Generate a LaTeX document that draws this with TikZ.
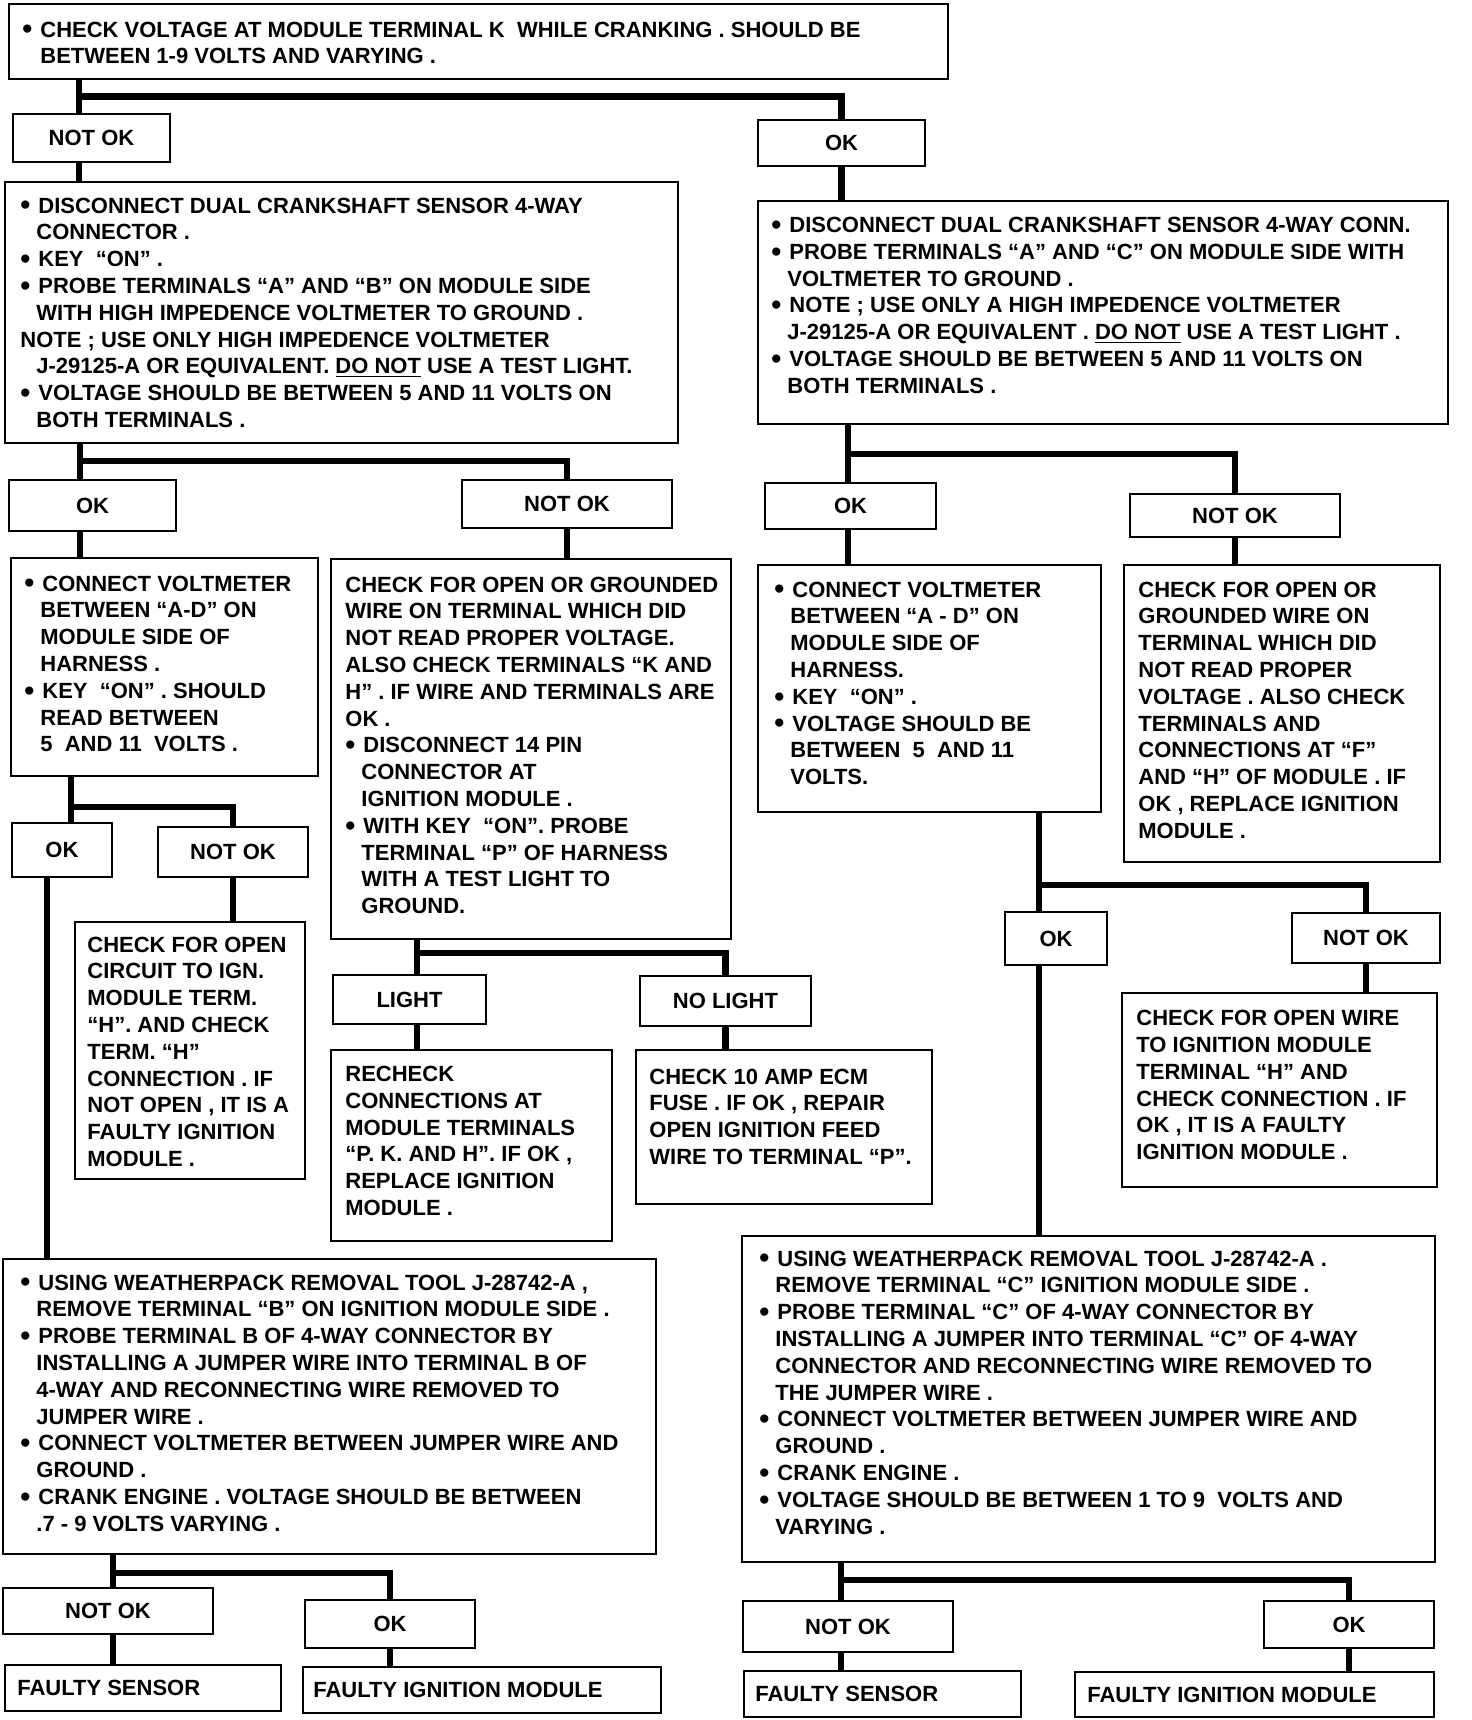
\documentclass[tikz,border=0pt]{standalone}
\usepackage{fontspec}
\setmainfont{Liberation Sans}
\usetikzlibrary{fit}
\newcommand\bodyfont{\fontsize{11}{13.4}\selectfont\bfseries}
\newcommand\bl{\makebox[9pt][l]{\raisebox{-0.9pt}{\scalebox{1.3}{\textbullet}}}}
\newcommand\ind{\hspace*{8pt}}
\newcommand\tb[1]{\parbox[t]{480pt}{\raggedright #1}}
\tikzset{
  frame/.style={draw, line width=1.1pt, inner sep=0pt, rectangle},
  ltxt/.style={inner sep=0pt, font=\bodyfont},
  txt/.style={anchor=base west, inner sep=0pt, font=\bodyfont},
  side/.style={anchor=west, inner sep=0pt, font=\bodyfont},
  conn/.style={line width=3.3pt, line join=miter},
}
\begin{document}
\begin{tikzpicture}[x=0.5pt, y=-0.5pt]
\useasboundingbox (0,0) rectangle (1472,1720);

% ---------- boxes ----------
\node[frame, fit={(9,4)(948,79)}] (top) {};
\node[txt] (top-t) at (22,37) {\tb{\bl CHECK VOLTAGE AT MODULE TERMINAL K~ WHILE CRANKING . SHOULD BE\\
\hspace*{9pt}BETWEEN 1-9 VOLTS AND VARYING .}};

\node[frame, fit={(13,114)(170,162)}] (a1) {};
\node[ltxt] (a1-t) at (a1.center) {NOT OK};
\node[frame, fit={(758,120)(925,166)}] (b1) {};
\node[ltxt] (b1-t) at (b1.center) {OK};

\node[frame, fit={(5,182)(678,443)}] (L1) {};
\node[txt] (L1-t) at (20,213) {\tb{\bl DISCONNECT DUAL CRANKSHAFT SENSOR 4-WAY\\
\ind CONNECTOR .\\
\bl KEY~ “ON” .\\
\bl PROBE TERMINALS “A” AND “B” ON MODULE SIDE\\
\ind WITH HIGH IMPEDENCE VOLTMETER TO GROUND .\\
NOTE ; USE ONLY HIGH IMPEDENCE VOLTMETER\\
\ind J-29125-A OR EQUIVALENT. \underline{DO NOT} USE A TEST LIGHT.\\
\bl VOLTAGE SHOULD BE BETWEEN 5 AND 11 VOLTS ON\\
\ind BOTH TERMINALS .}};

\node[frame, fit={(758,201)(1448,424)}] (R1) {};
\node[txt] (R1-t) at (771,232.5) {\tb{\bl DISCONNECT DUAL CRANKSHAFT SENSOR 4-WAY CONN.\\
\bl PROBE TERMINALS “A” AND “C” ON MODULE SIDE WITH\\
\ind VOLTMETER TO GROUND .\\
\bl NOTE ; USE ONLY A HIGH IMPEDENCE VOLTMETER\\
\ind J-29125-A OR EQUIVALENT . \underline{DO NOT} USE A TEST LIGHT .\\
\bl VOLTAGE SHOULD BE BETWEEN 5 AND 11 VOLTS ON\\
\ind BOTH TERMINALS .}};

\node[frame, fit={(9,480)(176,531)}] (a2) {};
\node[ltxt] (a2-t) at (a2.center) {OK};
\node[frame, fit={(462,480)(672,528)}] (b2) {};
\node[ltxt] (b2-t) at (b2.center) {NOT OK};

\node[frame, fit={(11,558)(318,776)}] (L2a) {};
\node[txt] (L2a-t) at (24,591) {\tb{\bl CONNECT VOLTMETER\\
\ind BETWEEN “A-D” ON\\
\ind MODULE SIDE OF\\
\ind HARNESS .\\
\bl KEY~ “ON” . SHOULD\\
\ind READ BETWEEN\\
\ind 5~ AND 11~ VOLTS .}};

\node[frame, fit={(331,559)(731,939)}] (L2b) {};
\node[txt] (L2b-t) at (345,592) {\tb{CHECK FOR OPEN OR GROUNDED\\
WIRE ON TERMINAL WHICH DID\\
NOT READ PROPER VOLTAGE.\\
ALSO CHECK TERMINALS “K AND\\
H” . IF WIRE AND TERMINALS ARE\\
OK .\\
\bl DISCONNECT 14 PIN\\
\ind CONNECTOR AT\\
\ind IGNITION MODULE .\\
\bl WITH KEY~ “ON”. PROBE\\
\ind TERMINAL “P” OF HARNESS\\
\ind WITH A TEST LIGHT TO\\
\ind GROUND.}};

\node[frame, fit={(765,483)(936,529)}] (a3) {};
\node[ltxt] (a3-t) at (a3.center) {OK};
\node[frame, fit={(1130,494)(1340,537)}] (b3) {};
\node[ltxt] (b3-t) at (b3.center) {NOT OK};

\node[frame, fit={(758,565)(1101,812)}] (R2a) {};
\node[txt] (R2a-t) at (774,597) {\tb{\bl CONNECT VOLTMETER\\
\ind BETWEEN “A - D” ON\\
\ind MODULE SIDE OF\\
\ind HARNESS.\\
\bl KEY~ “ON” .\\
\bl VOLTAGE SHOULD BE\\
\ind BETWEEN~ 5~ AND 11\\
\ind VOLTS.}};

\node[frame, fit={(1124,565)(1440,862)}] (R2b) {};
\node[txt] (R2b-t) at (1138,597) {\tb{CHECK FOR OPEN OR\\
GROUNDED WIRE ON\\
TERMINAL WHICH DID\\
NOT READ PROPER\\
VOLTAGE . ALSO CHECK\\
TERMINALS AND\\
CONNECTIONS AT “F”\\
AND “H” OF MODULE . IF\\
OK , REPLACE IGNITION\\
MODULE .}};

\node[frame, fit={(12,823)(112,877)}] (a4) {};
\node[ltxt] (a4-t) at (a4.center) {OK};
\node[frame, fit={(158,827)(308,877)}] (b4) {};
\node[ltxt] (b4-t) at (b4.center) {NOT OK};

\node[frame, fit={(75,922)(305,1179)}] (L3) {};
\node[txt] (L3-t) at (87,952) {\tb{CHECK FOR OPEN\\
CIRCUIT TO IGN.\\
MODULE TERM.\\
“H”. AND CHECK\\
TERM. “H”\\
CONNECTION . IF\\
NOT OPEN , IT IS A\\
FAULTY IGNITION\\
MODULE .}};

\node[frame, fit={(333,975)(486,1024)}] (a5) {};
\node[ltxt] (a5-t) at (a5.center) {LIGHT};
\node[frame, fit={(640,976)(811,1026)}] (b5) {};
\node[ltxt] (b5-t) at (b5.center) {NO LIGHT};

\node[frame, fit={(331,1050)(612,1241)}] (Lt) {};
\node[txt] (Lt-t) at (345,1081.5) {\tb{RECHECK\\
CONNECTIONS AT\\
MODULE TERMINALS\\
“P. K. AND H”. IF OK ,\\
REPLACE IGNITION\\
MODULE .}};

\node[frame, fit={(636,1050)(932,1204)}] (NLt) {};
\node[txt] (NLt-t) at (649,1084) {\tb{CHECK 10 AMP ECM\\
FUSE . IF OK , REPAIR\\
OPEN IGNITION FEED\\
WIRE TO TERMINAL “P”.}};

\node[frame, fit={(1005,912)(1107,965)}] (a6) {};
\node[ltxt] (a6-t) at (a6.center) {OK};
\node[frame, fit={(1292,913)(1440,963)}] (b6) {};
\node[ltxt] (b6-t) at (b6.center) {NOT OK};

\node[frame, fit={(1122,993)(1437,1187)}] (R3) {};
\node[txt] (R3-t) at (1136,1025.6) {\tb{CHECK FOR OPEN WIRE\\
TO IGNITION MODULE\\
TERMINAL “H” AND\\
CHECK CONNECTION . IF\\
OK , IT IS A FAULTY\\
IGNITION MODULE .}};

\node[frame, fit={(3,1259)(656,1554)}] (L4) {};
\node[txt] (L4-t) at (20,1290) {\tb{\bl USING WEATHERPACK REMOVAL TOOL J-28742-A ,\\
\ind REMOVE TERMINAL “B” ON IGNITION MODULE SIDE .\\
\bl PROBE TERMINAL B OF 4-WAY CONNECTOR BY\\
\ind INSTALLING A JUMPER WIRE INTO TERMINAL B OF\\
\ind 4-WAY AND RECONNECTING WIRE REMOVED TO\\
\ind JUMPER WIRE .\\
\bl CONNECT VOLTMETER BETWEEN JUMPER WIRE AND\\
\ind GROUND .\\
\bl CRANK ENGINE . VOLTAGE SHOULD BE BETWEEN\\
\ind .7 - 9 VOLTS VARYING .}};

\node[frame, fit={(742,1236)(1435,1562)}] (R4) {};
\node[txt] (R4-t) at (759,1266) {\tb{\bl USING WEATHERPACK REMOVAL TOOL J-28742-A .\\
\ind REMOVE TERMINAL “C” IGNITION MODULE SIDE .\\
\bl PROBE TERMINAL “C” OF 4-WAY CONNECTOR BY\\
\ind INSTALLING A JUMPER INTO TERMINAL “C” OF 4-WAY\\
\ind CONNECTOR AND RECONNECTING WIRE REMOVED TO\\
\ind THE JUMPER WIRE .\\
\bl CONNECT VOLTMETER BETWEEN JUMPER WIRE AND\\
\ind GROUND .\\
\bl CRANK ENGINE .\\
\bl VOLTAGE SHOULD BE BETWEEN 1 TO 9~ VOLTS AND\\
\ind VARYING .}};

\node[frame, fit={(3,1588)(213,1634)}] (a7) {};
\node[ltxt] (a7-t) at (a7.center) {NOT OK};
\node[frame, fit={(305,1600)(475,1648)}] (b7) {};
\node[ltxt] (b7-t) at (b7.center) {OK};
\node[frame, fit={(5,1665)(281,1711)}] (fsL) {};
\node[side] (fsL-t) at (fsL.west) [xshift=6.5pt] {FAULTY SENSOR};
\node[frame, fit={(303,1667)(661,1713)}] (fimL) {};
\node[side] (fimL-t) at (fimL.west) [xshift=5.5pt] {FAULTY IGNITION MODULE};

\node[frame, fit={(743,1601)(953,1652)}] (a8) {};
\node[ltxt] (a8-t) at (a8.center) {NOT OK};
\node[frame, fit={(1264,1601)(1434,1648)}] (b8) {};
\node[ltxt] (b8-t) at (b8.center) {OK};
\node[frame, fit={(744,1671)(1021,1717)}] (fsR) {};
\node[side] (fsR-t) at (fsR.west) [xshift=6pt] {FAULTY SENSOR};
\node[frame, fit={(1075,1672)(1434,1717)}] (fimR) {};
\node[side] (fimR-t) at (fimR.west) [xshift=6.5pt] {FAULTY IGNITION MODULE};

% ---------- junctions ----------
\coordinate (j1) at (79,96.5);
\coordinate (j2) at (80,461);
\coordinate (j3) at (848,454);
\coordinate (j4) at (71,807);
\coordinate (k4) at (47,900);
\coordinate (j5) at (417,953);
\coordinate (j6) at (1039,885);
\coordinate (j7) at (113,1573);
\coordinate (j8) at (841,1580);

% ---------- connectors ----------
\draw[conn] (top.south -| j1) -- (a1.north -| j1);
\draw[conn] (j1) -| (b1.north);
\draw[conn] (a1.south -| j1) -- (L1.north -| j1);
\draw[conn] (b1.south) -- (b1.south |- R1.north);

\draw[conn] (L1.south -| j2) -- (a2.north -| j2);
\draw[conn] (j2) -| (b2.north);
\draw[conn] (a2.south -| j2) -- (L2a.north -| j2);
\draw[conn] (b2.south) -- (b2.south |- L2b.north);

\draw[conn] (R1.south -| j3) -- (a3.north -| j3);
\draw[conn] (j3) -| (b3.north);
\draw[conn] (a3.south -| j3) -- (R2a.north -| j3);
\draw[conn] (b3.south) -- (b3.south |- R2b.north);

\draw[conn] (L2a.south -| j4) -- (a4.north -| j4);
\draw[conn] (j4) -| (b4.north);
\draw[conn] (a4.south -| k4) -- (L4.north -| k4);
\draw[conn] (b4.south) -- (b4.south |- L3.north);

\draw[conn] (L2b.south -| j5) -- (a5.north -| j5);
\draw[conn] (j5) -| (b5.north);
\draw[conn] (a5.south -| j5) -- (Lt.north -| j5);
\draw[conn] (b5.south) -- (b5.south |- NLt.north);

\draw[conn] (R2a.south -| j6) -- (a6.north -| j6);
\draw[conn] (j6) -| (b6.north);
\draw[conn] (a6.south -| j6) -- (R4.north -| j6);
\draw[conn] (b6.south) -- (b6.south |- R3.north);

\draw[conn] (L4.south -| j7) -- (a7.north -| j7);
\draw[conn] (j7) -| (b7.north);
\draw[conn] (a7.south -| j7) -- (fsL.north -| j7);
\draw[conn] (b7.south) -- (b7.south |- fimL.north);

\draw[conn] (R4.south -| j8) -- (a8.north -| j8);
\draw[conn] (j8) -| (b8.north);
\draw[conn] (a8.south -| j8) -- (fsR.north -| j8);
\draw[conn] (b8.south) -- (b8.south |- fimR.north);
\end{tikzpicture}
\end{document}
